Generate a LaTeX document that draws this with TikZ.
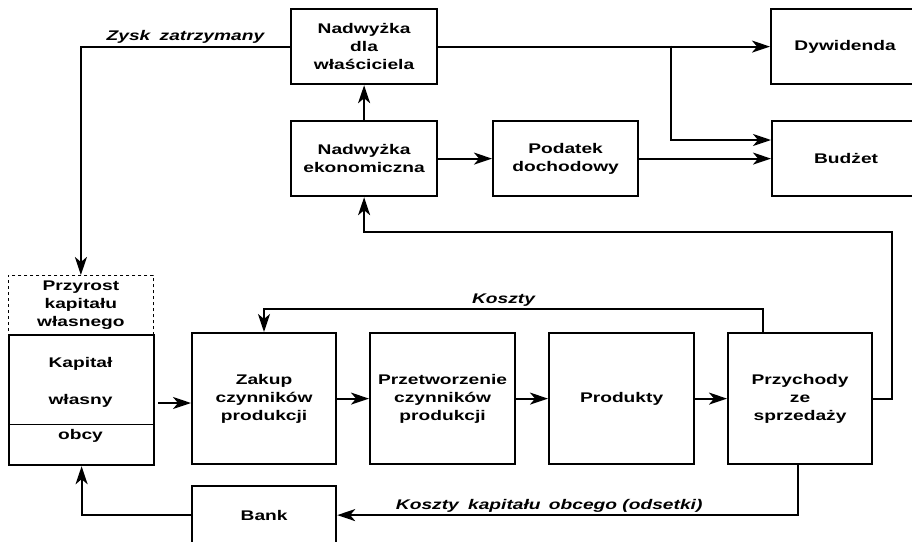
\documentclass[tikz,border=0pt]{standalone}
\usepackage{fontspec}
\setmainfont{Liberation Sans}[FakeStretch=1.37]
\usetikzlibrary{arrows.meta}
\tikzset{
  x=1pt, y=-1pt,
  txt/.style={font=\fontsize{14}{18}\selectfont\bfseries, align=center, inner sep=0pt},
  box/.style={txt, draw, line width=2.2pt, anchor=north west},
  flow/.style={line width=2.2pt, -{Stealth[length=18pt,width=12pt,inset=5pt]}},
  lbl/.style={font=\fontsize{14}{18}\selectfont\bfseries\itshape, inner sep=2pt},
}
\begin{document}
\begin{tikzpicture}
\useasboundingbox (0,0) rectangle (912,541);
% top row
\node[box, minimum width=146pt, minimum height=75pt] (wlasc) at (290,8) {Nadwyżka\\dla\\właściciela};
\node[box, minimum width=146pt, minimum height=75pt] (ekon) at (290,120) {Nadwyżka\\ekonomiczna};
\node[box, minimum width=145pt, minimum height=75pt] (podatek) at (492,120) {Podatek\\dochodowy};
\node[box, minimum width=148pt, minimum height=75pt] (dyw) at (770,8) {Dywidenda};
\node[box, minimum width=148pt, minimum height=75pt] (budzet) at (771,120) {Budżet};
% left capital
\node[txt, draw, dashed, line width=0.8pt, anchor=north west, minimum width=145pt, minimum height=59pt] (przyrost) at (8,275) {Przyrost\\kapitału\\własnego};
\node[draw, line width=2.2pt, anchor=north west, minimum width=145pt, minimum height=130pt, inner sep=0pt] (kap) at (8,334) {};
\draw[line width=0.8pt] (kap.west |- 0,424) -- (kap.east |- 0,424);
\node[txt] (kapt1) at (80.5,364) {Kapitał};
\node[txt] (kapt2) at (80.5,401) {własny};
\node[txt] (kapt3) at (80.5,436) {obcy};
% bottom row
\node[box, minimum width=144pt, minimum height=131pt] (zakup) at (191,332) {Zakup\\czynników\\produkcji};
\node[box, minimum width=145pt, minimum height=131pt] (przetw) at (369,332) {Przetworzenie\\czynników\\produkcji};
\node[box, minimum width=145pt, minimum height=131pt] (produkty) at (548,332) {Produkty};
\node[box, minimum width=144pt, minimum height=131pt] (przych) at (727,332) {Przychody\\ze\\sprzedaży};
\node[box, minimum width=144pt, minimum height=58pt] (bank) at (191,485) {Bank};
% connectors
\draw[flow] (wlasc.west) -| (przyrost.north) node[lbl, pos=0.25, above] {Zysk\hspace{4pt} zatrzymany};
\draw[flow] (ekon) -- (wlasc);
\draw[flow] (wlasc.east) -- (dyw.west);
\coordinate (br) at (671,45.5);
\draw[flow] (br) |- (budzet.west |- 0,140);
\draw[flow] (ekon) -- (podatek);
\draw[flow] (podatek) -- (budzet);
\coordinate (r1) at (892,232);
\draw[flow] (przych.east) -| (r1) -| (ekon.south);
\draw[flow] (przych.north -| 763,0) |- (264,309) node[lbl, pos=0.76, above] {Koszty} -- (zakup.north -| 264,0);
\draw[flow, shorten <=3pt] (kap.east |- 0,403) -- (zakup.west |- 0,403);
\draw[flow] (zakup) -- (przetw);
\draw[flow] (przetw) -- (produkty);
\draw[flow] (produkty) -- (przych);
\draw[flow] (przych.south -| 798,0) |- (bank.east) node[lbl, pos=0.77, above] {Koszty\hspace{4pt} kapitału\hspace{3pt} obcego (odsetki)};
\draw[flow] (bank.west) -| (kap.south);
\end{tikzpicture}
\end{document}
